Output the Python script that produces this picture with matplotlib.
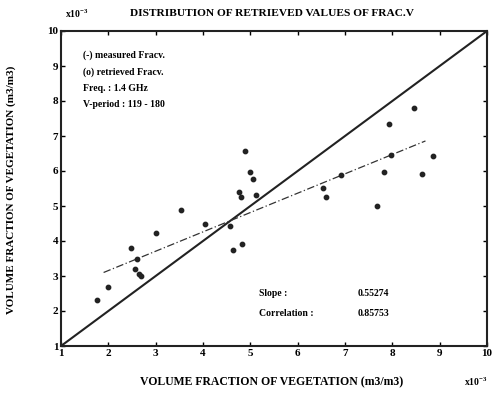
import matplotlib
matplotlib.use("Agg")
import matplotlib.pyplot as plt
import numpy as np

plt.rcParams['font.family'] = ['Liberation Serif', 'DejaVu Serif']
plt.rcParams['font.weight'] = 'bold'
plt.rcParams['mathtext.fontset'] = 'custom'
plt.rcParams['mathtext.rm'] = 'Liberation Serif:bold'
plt.rcParams['mathtext.default'] = 'rm'

# data (x10^-3)
measured = [1.75, 1.99, 2.47, 2.61, 2.57, 2.65, 2.70, 3.00, 3.54, 4.04, 4.57, 4.63, 4.83,
            4.89, 4.99, 5.05, 4.75, 4.80, 5.11, 6.54, 6.59, 6.92, 7.68, 7.83, 7.94, 7.98,
            8.45, 8.63, 8.86]
retrieved = [2.31, 2.69, 3.81, 3.48, 3.20, 3.05, 3.01, 4.22, 4.89, 4.49, 4.43, 3.74, 3.91,
             6.56, 5.98, 5.78, 5.39, 5.27, 5.32, 5.51, 5.26, 5.90, 5.00, 5.96, 7.33, 6.47,
             7.81, 5.92, 6.42]
slope = 0.55274
intercept = 2.05
fit_x = [1.9, 8.7]
xticks = [1, 2, 3, 4, 5, 6, 7, 8, 9, 10]
yticks = [1, 2, 3, 4, 5, 6, 7, 8, 9, 10]

fig = plt.figure(figsize=(4.93, 3.96), dpi=100)
ax = fig.add_axes([61/493, 1-346/396, (487-61)/493, (346-31)/396])

ax.plot([1, 10], [1, 10], color='#222222', lw=1.5)
fx = np.array(fit_x)
ax.plot(fx, intercept + slope*fx, color='#333333', lw=0.9, ls=(0, (6, 2, 1, 2)))
ax.scatter(measured, retrieved, s=10, color='#222222', zorder=3)

ax.set_xlim(1, 10)
ax.set_ylim(1, 10)
ax.set_xticks(xticks)
ax.set_yticks(yticks)
ax.tick_params(direction='in', top=True, right=True, length=3, width=1,
               labelsize=8, pad=2)
for lab in ax.get_xticklabels() + ax.get_yticklabels():
    lab.set_fontweight('bold')
for s in ax.spines.values():
    s.set_linewidth(1.5)
    s.set_color('#222222')

fs = 7
ax.text(1.47, 9.31, '(-) measured Fracv.', fontsize=fs, fontweight='bold', va='center')
ax.text(1.47, 8.83, '(o) retrieved Fracv.', fontsize=fs, fontweight='bold', va='center')
ax.text(1.47, 8.37, 'Freq. : 1.4 GHz', fontsize=fs, fontweight='bold', va='center')
ax.text(1.47, 7.89, 'V-period : 119 - 180', fontsize=fs, fontweight='bold', va='center')
ax.text(5.18, 2.49, 'Slope :', fontsize=fs, fontweight='bold', va='center')
ax.text(5.18, 1.94, 'Correlation :', fontsize=fs, fontweight='bold', va='center')
ax.text(7.27, 2.49, f'{slope:.5f}', fontsize=fs, fontweight='bold', va='center')
ax.text(7.27, 1.94, '0.85753', fontsize=fs, fontweight='bold', va='center')

fig.text(272/493, 1-14/396, 'DISTRIBUTION OF RETRIEVED VALUES OF FRAC.V', fontsize=8.2,
         fontweight='bold', ha='center', va='center')
fig.text(65/493, 1-14/396, r'x10$^{-3}$', fontsize=7, fontweight='bold', ha='left', va='center')
fig.text(488/493, 1-382/396, r'x10$^{-3}$', fontsize=7, fontweight='bold', ha='right', va='center')
fig.text(272/493, 1-382/396, 'VOLUME FRACTION OF VEGETATION (m3/m3)', fontsize=8.5,
         fontweight='bold', ha='center', va='center')
fig.text(11/493, 1-190/396, 'VOLUME FRACTION OF VEGETATION (m3/m3)', fontsize=8,
         fontweight='bold', ha='center', va='center', rotation=90)

fig.savefig('out.png', dpi=100)
